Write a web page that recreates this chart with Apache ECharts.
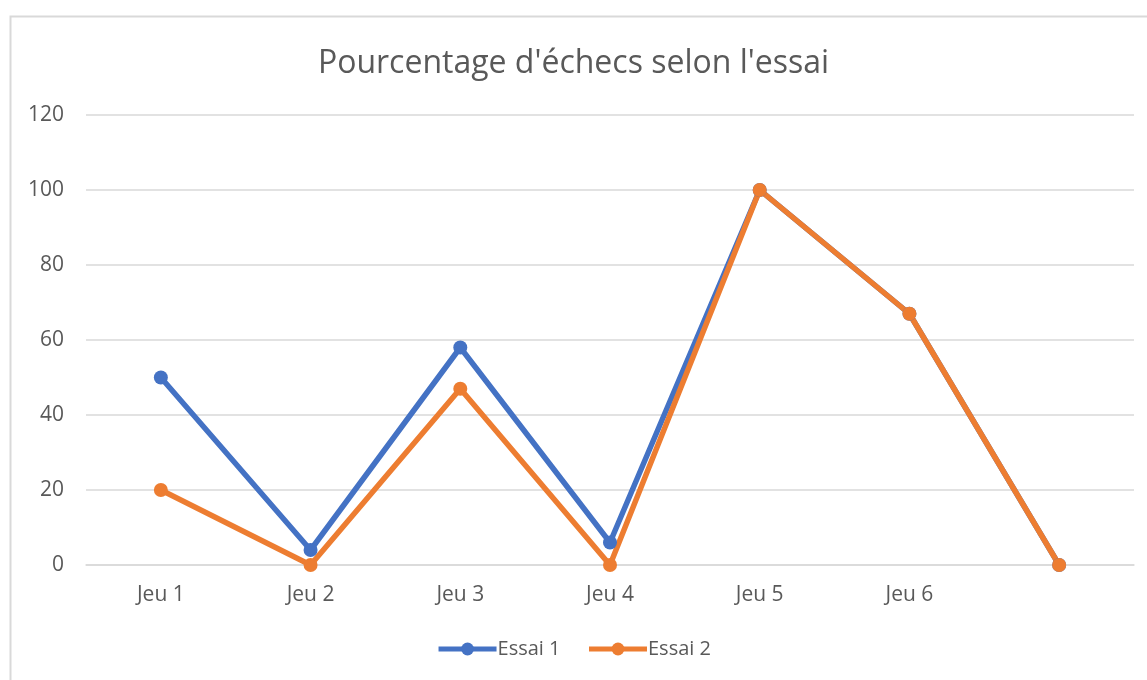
<!DOCTYPE html>
<html>
<head>
<meta charset="utf-8">
<script src="https://cdn.jsdelivr.net/npm/echarts@6/dist/echarts.min.js"></script>
<style>
  html, body { margin: 0; padding: 0; background: #fff; }
  #main { width: 1147px; height: 680px; }
</style>
</head>
<body>
<div id="main"></div>
<script>
var categories = ["Jeu 1", "Jeu 2", "Jeu 3", "Jeu 4", "Jeu 5", "Jeu 6", ""];
var essai1 = [50, 4, 58, 6, 100, 67, 0];
var essai2 = [20, 0, 47, 0, 100, 67, 0];

var chartDom = document.getElementById("main");
var myChart = echarts.init(chartDom);
var font = "'Open Sans', 'Liberation Sans', sans-serif";

var option = {
  animation: false,
  backgroundColor: "#fff",
  graphic: [
    {
      type: "rect",
      shape: { x: 10.5, y: 16.5, width: 1200, height: 700 },
      style: { fill: "none", stroke: "#d9d9d9", lineWidth: 2 },
      silent: true
    }
  ],
  title: {
    text: "Pourcentage d'échecs selon l'essai",
    left: "center",
    top: 43,
    textStyle: { fontFamily: font, fontSize: 32, fontWeight: "normal", color: "#595959" }
  },
  legend: {
    bottom: 16,
    left: "center",
    itemWidth: 58,
    itemHeight: 16,
    itemGap: 26,
    lineStyle: { width: 5 },
    textStyle: { fontFamily: font, fontSize: 20, color: "#595959", padding: [0, 0, 0, -4] }
  },
  grid: { left: 86, right: 13, top: 115, bottom: 115 },
  xAxis: {
    type: "category",
    data: categories,
    axisLine: { lineStyle: { color: "#d9d9d9", width: 1.5 } },
    axisTick: { show: false },
    axisLabel: { fontFamily: font, fontSize: 21, color: "#595959", margin: 20 }
  },
  yAxis: {
    type: "value",
    min: 0,
    max: 120,
    interval: 20,
    axisLine: { show: false },
    axisTick: { show: false },
    splitLine: { lineStyle: { color: "#d9d9d9", width: 1.5 } },
    axisLabel: { fontFamily: font, fontSize: 21, color: "#595959", margin: 22 }
  },
  series: [
    {
      name: "Essai 1",
      type: "line",
      data: essai1,
      symbol: "circle",
      symbolSize: 14,
      lineStyle: { width: 5.5, color: "#4472C4" },
      itemStyle: { color: "#4472C4" }
    },
    {
      name: "Essai 2",
      type: "line",
      data: essai2,
      symbol: "circle",
      symbolSize: 14,
      lineStyle: { width: 5.5, color: "#ED7D31" },
      itemStyle: { color: "#ED7D31" }
    }
  ]
};
myChart.setOption(option);
</script>
</body>
</html>
